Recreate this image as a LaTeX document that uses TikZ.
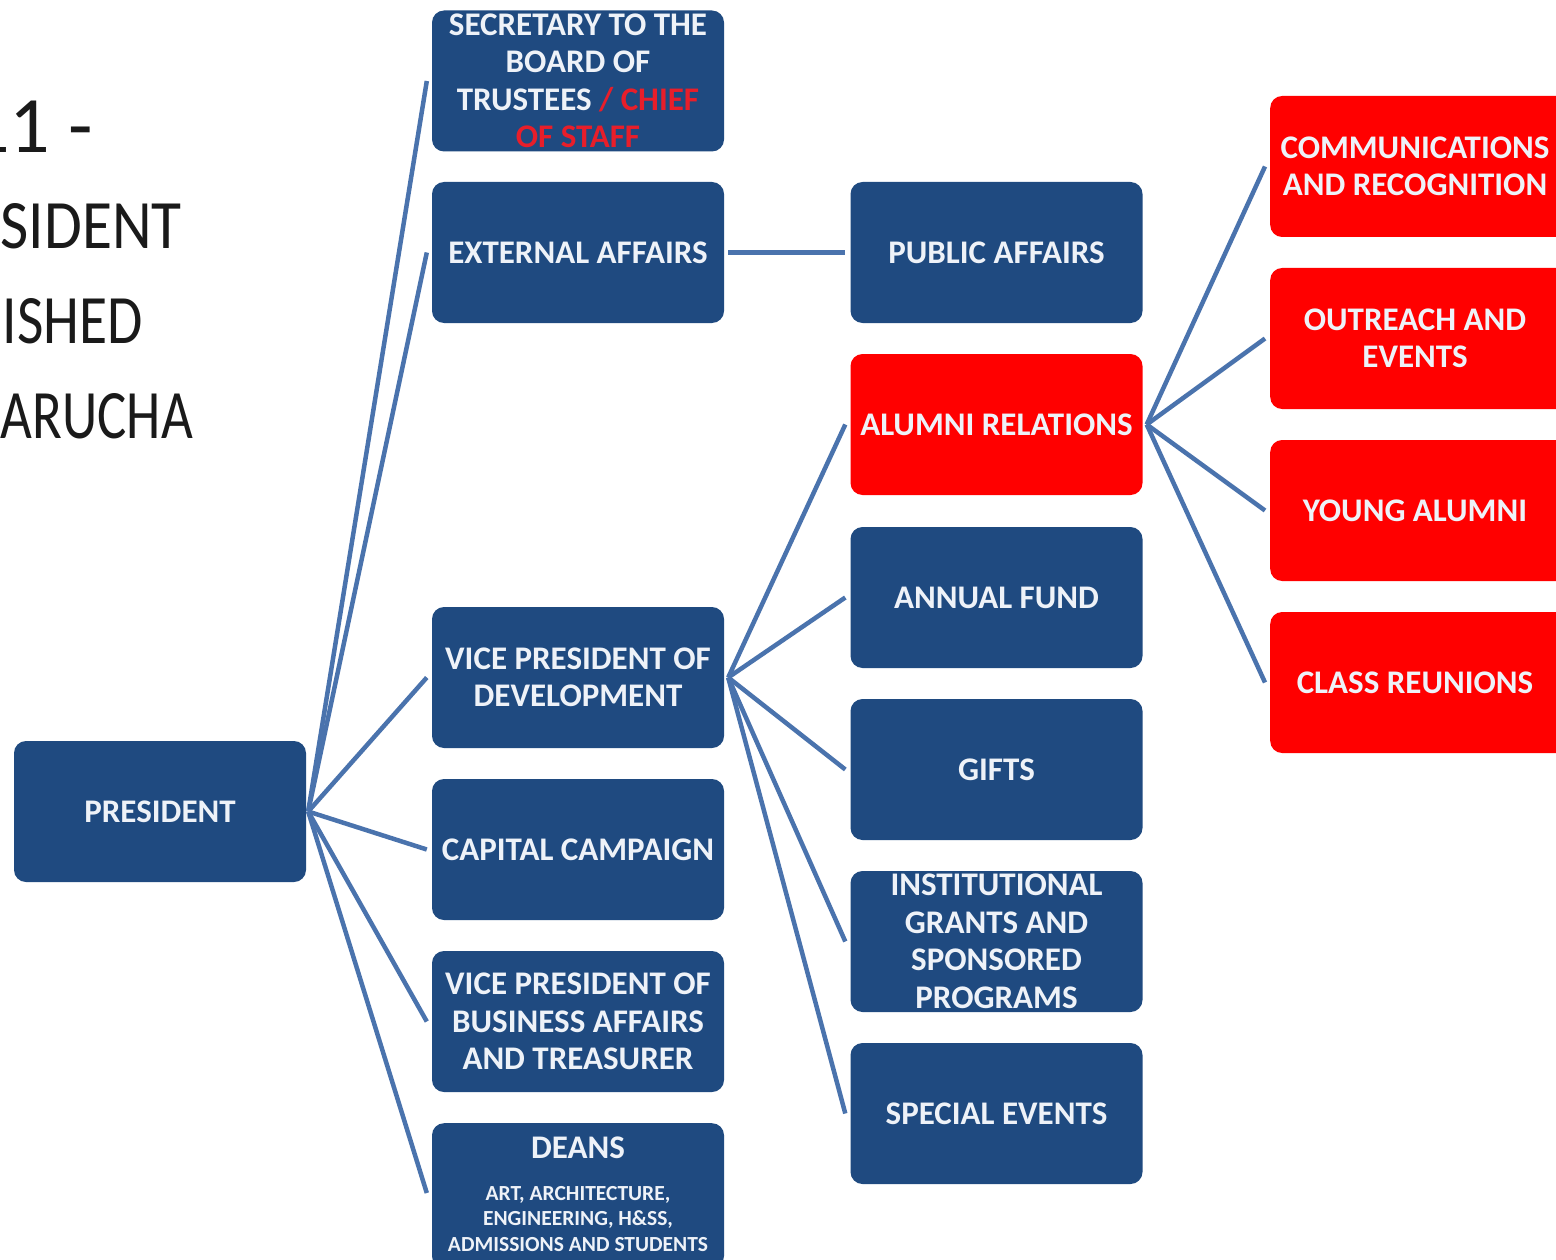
\documentclass[tikz,border=0pt]{standalone}
\usepackage{fontspec}
\usepackage{graphicx}
\setmainfont{Carlito}
\definecolor{boxblue}{HTML}{1F4A80}
\definecolor{boxred}{HTML}{FF0000}
\definecolor{linkblue}{HTML}{4A73AD}
\definecolor{txtred}{HTML}{E81E2A}
\definecolor{txtwhite}{HTML}{EEF2F8}
\definecolor{titlegray}{HTML}{1A1A1A}
\tikzset{
  boxfont/.style={font=\fontsize{33}{37.5}\selectfont\bfseries},
  orgbox/.style={rounded corners=12pt, minimum width=292pt, minimum height=141pt,
    inner sep=0pt, align=center, text=txtwhite, boxfont},
  bluebox/.style={orgbox, fill=boxblue},
  redbox/.style={orgbox, fill=boxred},
  boxlabel/.style={inner sep=0pt, align=center, text=txtwhite, boxfont},
  link/.style={draw=linkblue, line width=4.5pt},
  titletext/.style={anchor=base east, inner sep=0pt, text=titlegray, font=\fontsize{72}{72}\selectfont}
}
\begin{document}
\begin{tikzpicture}[x=1pt,y=-1pt]
\useasboundingbox (0,0) rectangle (1556,1260);
\fill[white] (0,0) rectangle (1556,1260);
\begin{scope}
\clip (0,0) rectangle (1556,1260);
% title fragments
\node[titletext, font=\fontsize{80}{80}\selectfont] (t1) at (93,153) {11 -};
\node[titletext] (t2) at (182,248) {\resizebox{181pt}{45pt}{SIDENT}};
\node[titletext] (t3) at (143,343) {\resizebox{140pt}{45pt}{ISHED}};
\node[titletext] (t4) at (193,438) {\resizebox{192pt}{45pt}{ARUCHA}};

% nodes
\node[bluebox] (pres) at (160,811.5) {PRESIDENT};
\node[bluebox] (sec) at (578,81) {SECRETARY TO THE\\BOARD OF\\TRUSTEES \textcolor{txtred}{/ CHIEF}\\\textcolor{txtred}{OF STAFF}};
\node[bluebox] (ext) at (578,252.5) {EXTERNAL AFFAIRS};
\node[bluebox] (vpd) at (578,677.5) {VICE PRESIDENT OF\\DEVELOPMENT};
\node[bluebox] (cap) at (578,849.5) {CAPITAL CAMPAIGN};
\node[bluebox] (vpb) at (578,1021.5) {VICE PRESIDENT OF\\BUSINESS AFFAIRS\\AND TREASURER};
\node[bluebox, minimum height=145pt, anchor=north] (deans) at (578,1123) {};
\node[boxlabel] (deanst) at (578,1148) {DEANS};
\node[boxlabel, font=\fontsize{21.5}{25.5}\selectfont\bfseries] (deansub) at (578,1219) {ART, ARCHITECTURE,\\ENGINEERING, H\&SS,\\ADMISSIONS AND STUDENTS};

\node[bluebox] (pub) at (996.5,252.5) {PUBLIC AFFAIRS};
\node[redbox] (alum) at (996.5,424.5) {ALUMNI RELATIONS};
\node[bluebox] (fund) at (996.5,597.5) {ANNUAL FUND};
\node[bluebox] (gifts) at (996.5,769.5) {GIFTS};
\node[bluebox] (grants) at (996.5,941.5) {INSTITUTIONAL\\GRANTS AND\\SPONSORED\\PROGRAMS};
\node[bluebox] (spec) at (996.5,1113.5) {SPECIAL EVENTS};

\node[redbox, minimum width=310pt, anchor=west] (comm) at (1270,166.5) {};
\node[boxlabel] (commt) at (1415,166.5) {COMMUNICATIONS\\AND RECOGNITION};
\node[redbox, minimum width=310pt, anchor=west] (outr) at (1270,338.5) {};
\node[boxlabel] (outrt) at (1415,338.5) {OUTREACH AND\\EVENTS};
\node[redbox, minimum width=310pt, anchor=west] (young) at (1270,510.5) {};
\node[boxlabel] (youngt) at (1415,510.5) {YOUNG ALUMNI};
\node[redbox, minimum width=310pt, anchor=west] (class) at (1270,682.5) {};
\node[boxlabel] (classt) at (1415,682.5) {CLASS REUNIONS};

% connectors
\foreach \t in {sec,ext,vpd,cap,vpb} {
  \draw[link] ([xshift=2pt]pres.east) -- ([xshift=-5pt]\t.west);
}
\draw[link] ([xshift=2pt]pres.east) -- ([xshift=-5pt,yshift=-70pt]deans.north west);
\draw[link] ([xshift=4pt]ext.east) -- ([xshift=-5pt]pub.west);
\foreach \t in {alum,fund,gifts,grants,spec} {
  \draw[link] ([xshift=4pt]vpd.east) -- ([xshift=-5pt]\t.west);
}
\foreach \t in {comm,outr,young,class} {
  \draw[link] ([xshift=4pt]alum.east) -- ([xshift=-5pt]\t.west);
}
\end{scope}
\end{tikzpicture}
\end{document}
